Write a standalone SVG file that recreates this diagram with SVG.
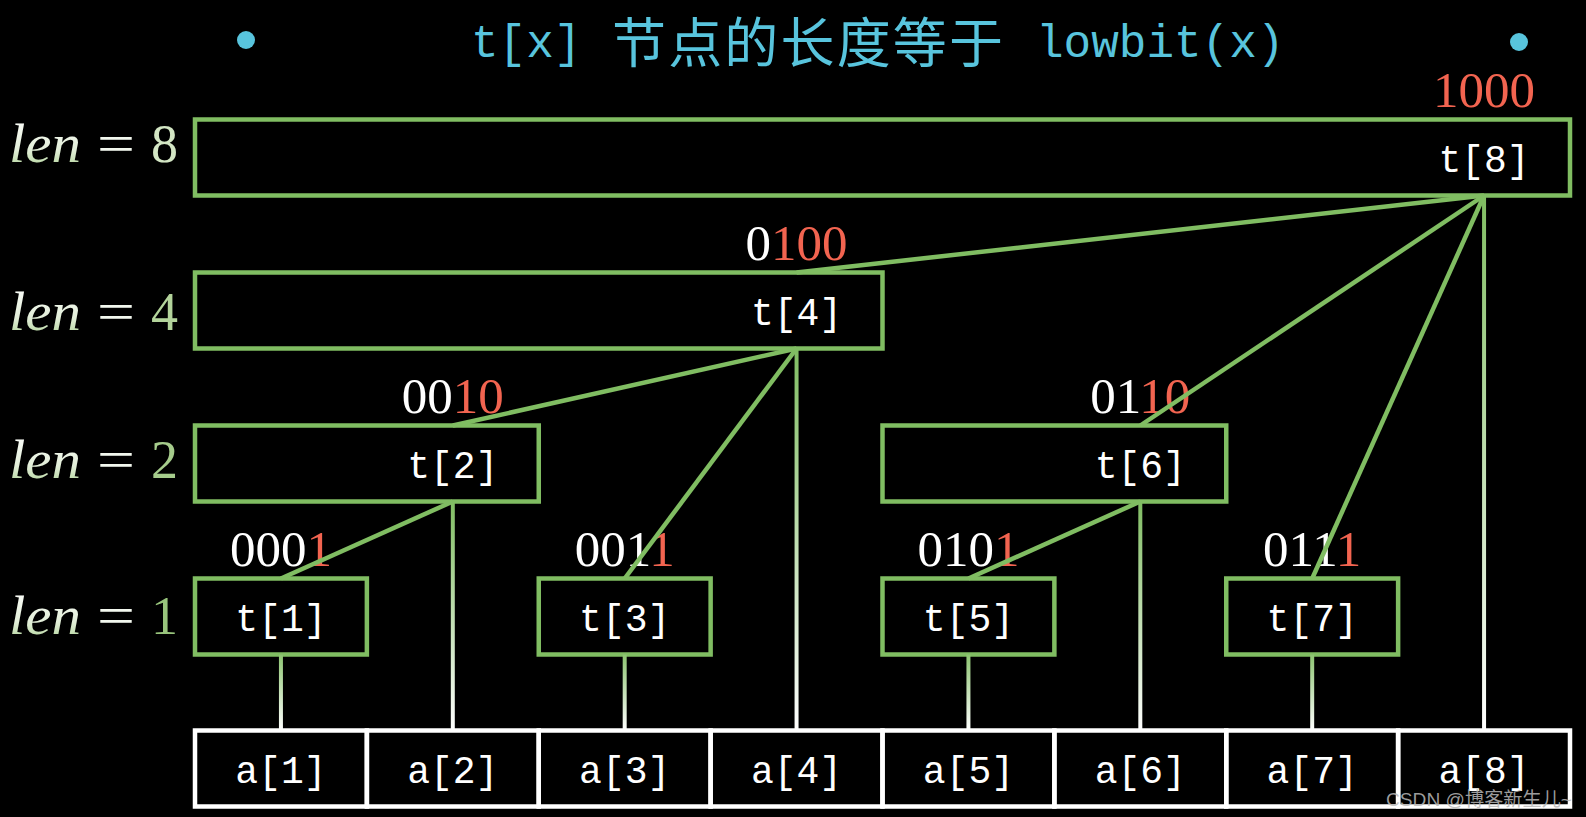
<svg xmlns="http://www.w3.org/2000/svg" width="1586" height="817" viewBox="0 0 1586 817">
<defs>
<style>
.box{fill:none;stroke:#80BD62;stroke-width:4.5}
.cell{fill:none;stroke:#ffffff;stroke-width:4.5}
.edge{stroke:#80BD62;stroke-width:4.5;fill:none}
.mono{font-family:"Liberation Mono","DejaVu Sans Mono",monospace;fill:#ffffff;font-size:38px;text-anchor:middle}
.bin{font-family:"Liberation Serif","DejaVu Serif",serif;font-size:51px;text-anchor:middle}
.w{fill:#ffffff}
.r{fill:#F26450}
.len{font-family:"Liberation Serif","DejaVu Serif",serif;font-size:54px}
.title{fill:#58C4DD}
</style>
<linearGradient id="lenG" x1="0" y1="0" x2="0" y2="1">
<stop offset="0" stop-color="#ffffff"/>
<stop offset="0.6" stop-color="#e2eed8"/>
<stop offset="1" stop-color="#a3cc88"/>
</linearGradient>
<linearGradient id="g8" gradientUnits="userSpaceOnUse" x1="0" y1="195.5" x2="0" y2="730.5">
<stop offset="0" stop-color="#80BD62"/><stop offset="1" stop-color="#ffffff"/>
</linearGradient>
<linearGradient id="g4" gradientUnits="userSpaceOnUse" x1="0" y1="348.5" x2="0" y2="730.5">
<stop offset="0" stop-color="#80BD62"/><stop offset="1" stop-color="#ffffff"/>
</linearGradient>
<linearGradient id="g2" gradientUnits="userSpaceOnUse" x1="0" y1="501.5" x2="0" y2="730.5">
<stop offset="0" stop-color="#80BD62"/><stop offset="1" stop-color="#ffffff"/>
</linearGradient>
<linearGradient id="g1" gradientUnits="userSpaceOnUse" x1="0" y1="654.5" x2="0" y2="730.5">
<stop offset="0" stop-color="#8cc470"/><stop offset="1" stop-color="#ffffff"/>
</linearGradient>
</defs>
<rect x="0" y="0" width="1586" height="817" fill="#000000"/>

<g id="title">
<circle cx="246" cy="40" r="9" fill="#58C4DD"/>
<circle cx="1519" cy="42" r="9" fill="#58C4DD"/>
<text x="471" y="57" class="title" font-family="Liberation Mono, DejaVu Sans Mono, monospace" font-size="46">t[x]</text>
<text x="612" y="63" class="title" font-family="Noto Sans CJK SC, sans-serif" font-size="54" textLength="391" lengthAdjust="spacing">节点的长度等于</text>
<text x="1036" y="57" class="title" font-family="Liberation Mono, DejaVu Sans Mono, monospace" font-size="46">lowbit(x)</text>
</g>

<g id="len-labels">
<text x="9" y="162" class="len" font-style="italic" fill="url(#lenG)" textLength="72" lengthAdjust="spacingAndGlyphs">len</text>
<text x="97" y="162" class="len" fill="#f2f7ee" textLength="38" lengthAdjust="spacingAndGlyphs">=</text>
<text x="151" y="162" class="len" fill="#d3e6c4">8</text>
<text x="9" y="330" class="len" font-style="italic" fill="url(#lenG)" textLength="72" lengthAdjust="spacingAndGlyphs">len</text>
<text x="97" y="330" class="len" fill="#f2f7ee" textLength="38" lengthAdjust="spacingAndGlyphs">=</text>
<text x="151" y="330" class="len" fill="#b3d49b">4</text>
<text x="9" y="478" class="len" font-style="italic" fill="url(#lenG)" textLength="72" lengthAdjust="spacingAndGlyphs">len</text>
<text x="97" y="478" class="len" fill="#f2f7ee" textLength="38" lengthAdjust="spacingAndGlyphs">=</text>
<text x="151" y="478" class="len" fill="#a6cc8c">2</text>
<text x="9" y="634" class="len" font-style="italic" fill="url(#lenG)" textLength="72" lengthAdjust="spacingAndGlyphs">len</text>
<text x="97" y="634" class="len" fill="#f2f7ee" textLength="38" lengthAdjust="spacingAndGlyphs">=</text>
<text x="151" y="634" class="len" fill="#98c47c">1</text>
</g>

<g id="t8">
<rect class="box" x="195" y="119.5" width="1375" height="76"/>
<text class="mono" x="1484.06" y="171.5">t[8]</text>
<text class="bin" x="1484.06" y="106.5"><tspan class="r">1000</tspan></text>
</g>
<g id="t4">
<rect class="box" x="195" y="272.5" width="687.5" height="76"/>
<text class="mono" x="796.56" y="324.5">t[4]</text>
<text class="bin" x="796.56" y="259.5"><tspan class="w">0</tspan><tspan class="r">100</tspan></text>
</g>
<g id="t2">
<rect class="box" x="195" y="425.5" width="343.75" height="76"/>
<text class="mono" x="452.81" y="477.5">t[2]</text>
<text class="bin" x="452.81" y="412.5"><tspan class="w">00</tspan><tspan class="r">10</tspan></text>
</g>
<g id="t6">
<rect class="box" x="882.5" y="425.5" width="343.75" height="76"/>
<text class="mono" x="1140.31" y="477.5">t[6]</text>
<text class="bin" x="1140.31" y="412.5"><tspan class="w">01</tspan><tspan class="r">10</tspan></text>
</g>
<g id="t1">
<rect class="box" x="195" y="578.5" width="171.875" height="76"/>
<text class="mono" x="280.94" y="630.5">t[1]</text>
<text class="bin" x="280.94" y="565.5"><tspan class="w">000</tspan><tspan class="r">1</tspan></text>
</g>
<g id="t3">
<rect class="box" x="538.75" y="578.5" width="171.875" height="76"/>
<text class="mono" x="624.69" y="630.5">t[3]</text>
<text class="bin" x="624.69" y="565.5"><tspan class="w">001</tspan><tspan class="r">1</tspan></text>
</g>
<g id="t5">
<rect class="box" x="882.5" y="578.5" width="171.875" height="76"/>
<text class="mono" x="968.44" y="630.5">t[5]</text>
<text class="bin" x="968.44" y="565.5"><tspan class="w">010</tspan><tspan class="r">1</tspan></text>
</g>
<g id="t7">
<rect class="box" x="1226.25" y="578.5" width="171.875" height="76"/>
<text class="mono" x="1312.19" y="630.5">t[7]</text>
<text class="bin" x="1312.19" y="565.5"><tspan class="w">011</tspan><tspan class="r">1</tspan></text>
</g>

<g id="a1"><rect class="cell" x="195" y="730.5" width="171.875" height="76"/><text class="mono" x="280.94" y="782.5">a[1]</text></g>
<g id="a2"><rect class="cell" x="366.875" y="730.5" width="171.875" height="76"/><text class="mono" x="452.81" y="782.5">a[2]</text></g>
<g id="a3"><rect class="cell" x="538.75" y="730.5" width="171.875" height="76"/><text class="mono" x="624.69" y="782.5">a[3]</text></g>
<g id="a4"><rect class="cell" x="710.625" y="730.5" width="171.875" height="76"/><text class="mono" x="796.56" y="782.5">a[4]</text></g>
<g id="a5"><rect class="cell" x="882.5" y="730.5" width="171.875" height="76"/><text class="mono" x="968.44" y="782.5">a[5]</text></g>
<g id="a6"><rect class="cell" x="1054.375" y="730.5" width="171.875" height="76"/><text class="mono" x="1140.31" y="782.5">a[6]</text></g>
<g id="a7"><rect class="cell" x="1226.25" y="730.5" width="171.875" height="76"/><text class="mono" x="1312.19" y="782.5">a[7]</text></g>
<g id="a8"><rect class="cell" x="1398.125" y="730.5" width="171.875" height="76"/><text class="mono" x="1484.06" y="782.5">a[8]</text></g>

<g id="connectors">
<line class="edge" x1="1484.06" y1="195.5" x2="796.56" y2="272.5"/>
<line class="edge" x1="1484.06" y1="195.5" x2="1140.31" y2="425.5"/>
<line class="edge" x1="1484.06" y1="195.5" x2="1312.19" y2="578.5"/>
<line class="edge" x1="796.56" y1="348.5" x2="452.81" y2="425.5"/>
<line class="edge" x1="796.56" y1="348.5" x2="624.69" y2="578.5"/>
<line class="edge" x1="452.81" y1="501.5" x2="280.94" y2="578.5"/>
<line class="edge" x1="1140.31" y1="501.5" x2="968.44" y2="578.5"/>
<line x1="1484.06" y1="195.5" x2="1484.06" y2="730.5" stroke="url(#g8)" stroke-width="4"/>
<line x1="796.56" y1="348.5" x2="796.56" y2="730.5" stroke="url(#g4)" stroke-width="4"/>
<line x1="452.81" y1="501.5" x2="452.81" y2="730.5" stroke="url(#g2)" stroke-width="4"/>
<line x1="1140.31" y1="501.5" x2="1140.31" y2="730.5" stroke="url(#g2)" stroke-width="4"/>
<line x1="280.94" y1="654.5" x2="280.94" y2="730.5" stroke="url(#g1)" stroke-width="4"/>
<line x1="624.69" y1="654.5" x2="624.69" y2="730.5" stroke="url(#g1)" stroke-width="4"/>
<line x1="968.44" y1="654.5" x2="968.44" y2="730.5" stroke="url(#g1)" stroke-width="4"/>
<line x1="1312.19" y1="654.5" x2="1312.19" y2="730.5" stroke="url(#g1)" stroke-width="4"/>
</g>

<text x="1386" y="806" font-family="Liberation Sans, Noto Sans CJK SC, sans-serif" font-size="19" fill="#b8b8b8" fill-opacity="0.85" textLength="186" lengthAdjust="spacingAndGlyphs">CSDN @博客新生儿~</text>
</svg>
